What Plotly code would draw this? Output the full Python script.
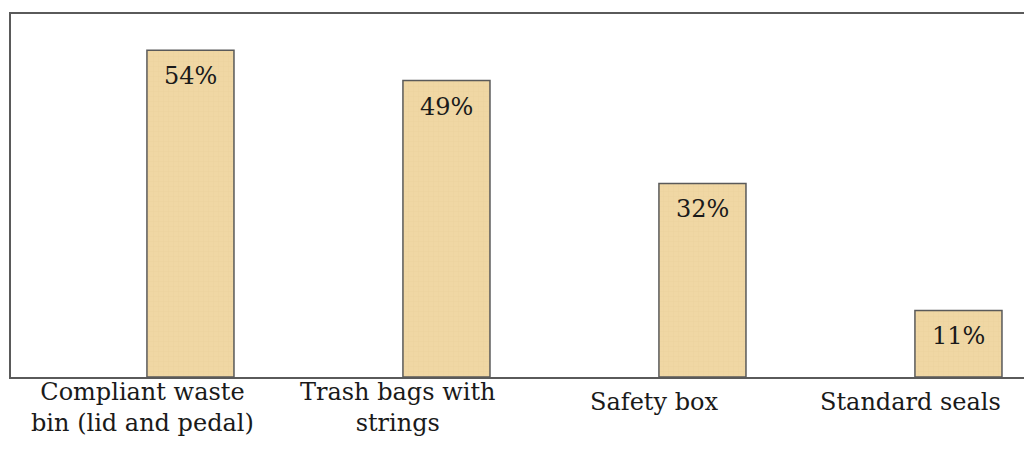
import plotly.graph_objects as go

# Share of respondents equipped with each waste-management item
categories = ["Compliant waste<br>bin (lid and pedal)", "Trash bags with<br>strings", "Safety box", "Standard seals"]
shares = [54, 49, 32, 11]

positions = list(range(len(categories)))

FONT = "DejaVu Serif"
LINE = "#5a5a5a"

fig = go.Figure(
    go.Bar(
        x=positions,
        y=shares,
        width=0.34,
        marker=dict(
            color="#f0d7a4",
            line=dict(color=LINE, width=1.5),
            pattern=dict(shape="+", fgcolor="#e2c68f", size=5, solidity=0.12),
        ),
        hoverinfo="skip",
    )
)

# Percentage labels just below the top of each bar
for x, v in zip(positions, shares):
    fig.add_annotation(
        x=x, y=v, xref="x", yref="y",
        text=f"{v}%", showarrow=False,
        yanchor="top", yshift=-10,
        font=dict(family=FONT, size=24, color="#1a1a1a"),
    )

# Category labels under the axis, set slightly left of each bar;
# single-line names sit a little lower
for x, name in zip(positions, categories):
    two_lines = "<br>" in name
    fig.add_annotation(
        x=x, y=0, xref="x", yref="y",
        text=name, showarrow=False,
        xshift=-48,
        yanchor="top", yshift=1 if two_lines else -9,
        font=dict(family=FONT, size=24, color="#1a1a1a"),
    )

fig.update_layout(
    width=1024,
    height=457,
    margin=dict(l=11, r=0, t=14, b=80),
    font=dict(family=FONT),
    paper_bgcolor="white",
    plot_bgcolor="white",
    showlegend=False,
    xaxis=dict(
        range=[-0.701, 3.256],
        showline=True, mirror=True, linecolor=LINE, linewidth=2,
        showticklabels=False, ticks="", showgrid=False, zeroline=False,
    ),
    yaxis=dict(
        range=[0, 60],
        showline=True, linecolor=LINE, linewidth=2,
        showticklabels=False, ticks="", showgrid=False, zeroline=False,
    ),
)

fig.write_html("out.html")
